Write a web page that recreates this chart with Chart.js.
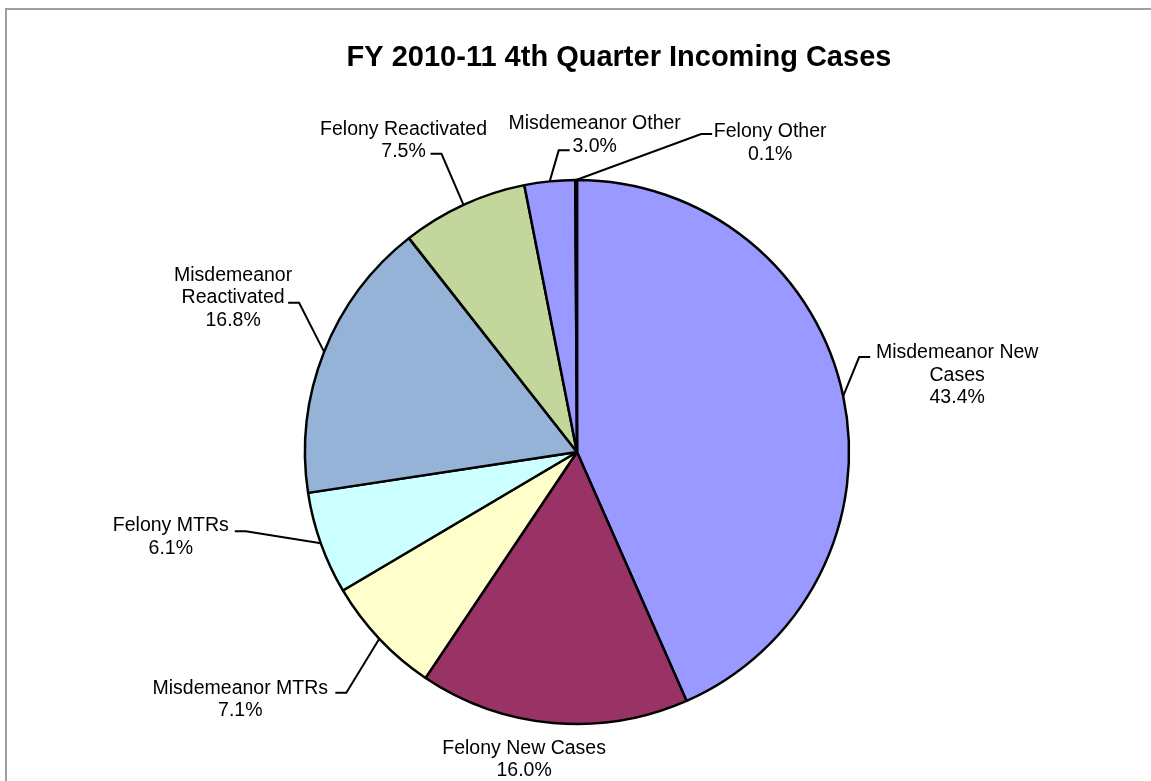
<!DOCTYPE html>
<html>
<head>
<meta charset="utf-8">
<script src="https://cdn.jsdelivr.net/npm/chart.js@4.4.0/dist/chart.umd.min.js"></script>
<style>
html, body { margin: 0; padding: 0; background: #fff; overflow: hidden; }
#wrap { position: relative; width: 1151px; height: 781px; }
</style>
</head>
<body>
<div id="wrap"><canvas id="myChart" width="1151" height="781"></canvas></div>
<script>
var chartTitle = 'FY 2010-11 4th Quarter Incoming Cases';
var categories = ['Misdemeanor New Cases', 'Felony New Cases', 'Misdemeanor MTRs', 'Felony MTRs',
    'Misdemeanor Reactivated', 'Felony Reactivated', 'Misdemeanor Other', 'Felony Other'];
// category text as it wraps in the picture
var labelLines = [['Misdemeanor New', 'Cases'], ['Felony New Cases'], ['Misdemeanor MTRs'], ['Felony MTRs'],
    ['Misdemeanor', 'Reactivated'], ['Felony Reactivated'], ['Misdemeanor Other'], ['Felony Other']];
var shares = [43.4, 16.0, 7.1, 6.1, 16.8, 7.5, 3.0, 0.1];
var sliceColors = ['#9999ff', '#993366', '#ffffcc', '#ccffff', '#95b3d7', '#c3d69b', '#9999ff', '#000000'];

// where each label sits, relative to the outer edge of its slice:
// [text center dx, first baseline dy, leader end dx, leader end dy]
var labelPlace = [
    [114, -38, 27, -39],
    [-29, 31, null, null],
    [-139, 55, -44, 54],
    [-150, -12, -86, -12],
    [-91, -71, -36, -49],
    [-60, -70, -33, -51],
    [45, -52, 20, -31],
    [194, -43, 136, -46]
];

var sliceLabels = {
    id: 'sliceLabels',
    beforeDraw: function (chart) {
        var c = chart.ctx;
        c.save();
        c.strokeStyle = '#a0a0a0';
        c.lineWidth = 2;
        c.strokeRect(6, 9, chart.width + 20, chart.height + 20);
        c.fillStyle = '#000';
        c.font = 'bold 29px "Liberation Sans", Arial, sans-serif';
        c.textAlign = 'center';
        c.textBaseline = 'alphabetic';
        c.fillText(chartTitle, 619, 66);
        c.restore();
    },
    afterDatasetsDraw: function (chart) {
        var c = chart.ctx;
        var meta = chart.getDatasetMeta(0);
        c.save();
        c.font = '19.5px "Liberation Sans", Arial, sans-serif';
        c.fillStyle = '#000';
        c.strokeStyle = '#000';
        c.lineWidth = 2;
        c.textAlign = 'center';
        c.textBaseline = 'alphabetic';
        meta.data.forEach(function (arc, i) {
            var p = arc.getProps(['x', 'y', 'startAngle', 'endAngle', 'outerRadius'], true);
            var mid = (p.startAngle + p.endAngle) / 2;
            var ex = p.x + Math.cos(mid) * p.outerRadius;
            var ey = p.y + Math.sin(mid) * p.outerRadius;
            var pl = labelPlace[i];
            var lines = labelLines[i].concat([shares[i].toFixed(1) + '%']);
            lines.forEach(function (t, k) {
                c.fillText(t, ex + pl[0], ey + pl[1] + k * 22.5);
            });
            if (pl[2] !== null) {
                var ax = ex + pl[2], ay = ey + pl[3];
                var bx = ax + (ex > ax ? 11 : -11);
                c.beginPath();
                c.moveTo(ax, ay);
                c.lineTo(bx, ay);
                c.lineTo(ex, ey);
                c.stroke();
            }
        });
        c.restore();
    }
};

var ctx = document.getElementById('myChart').getContext('2d');
var myChart = new Chart(ctx, {
    type: 'pie',
    data: {
        labels: categories,
        datasets: [{
            data: shares,
            backgroundColor: sliceColors,
            borderColor: '#000',
            borderWidth: 2.5
        }]
    },
    options: {
        responsive: false,
        maintainAspectRatio: false,
        animation: false,
        radius: 272,
        layout: { padding: { left: 305, right: 302, top: 180, bottom: 57 } },
        plugins: {
            legend: { display: false },
            tooltip: { enabled: false },
            title: { display: false }
        }
    },
    plugins: [sliceLabels]
});
</script>
</body>
</html>
